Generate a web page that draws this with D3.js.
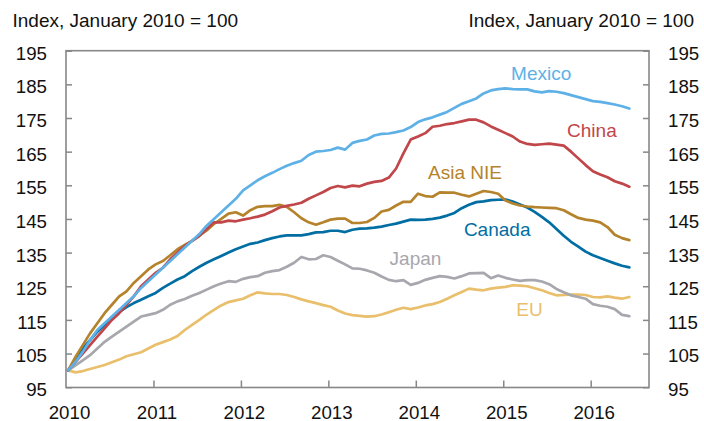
<!DOCTYPE html>
<html>
 <head>
  <meta charset="utf-8">
  <script src="https://d3js.org/d3.v7.min.js"></script>
  <style>
   body { margin: 0; background: #fff; }
   text { font-family: "Liberation Sans", Arial, Helvetica, sans-serif; }
  </style>
 </head>
 <body>
  <div id="chart"></div>
  <script type="text/javascript">
   // monthly index values, Jan 2010 .. Jun 2016 (Jan 2010 = 100)
   var startYear = 2010, nMonths = 78;
   var years = [2010, 2011, 2012, 2013, 2014, 2015, 2016];
   var yTicks = [95, 105, 115, 125, 135, 145, 155, 165, 175, 185, 195];

   var mexico = [100,102.5,105.5,109,112,114,116,118,120,122,124.5,126.5,
     128.5,130.5,132.5,134.5,136.5,138.5,140.5,143,145,147,149,151,
     153.5,155,156.5,157.7,158.7,159.8,160.8,161.6,162.3,164,165,165.2,
     165.5,166.2,165.6,167.6,168.2,168.6,169.8,170.3,170.4,170.8,171.3,172.3,
     173.8,174.6,175.2,176,176.8,178,179.2,180,180.8,182.3,183.2,183.6,
     183.8,183.6,183.5,183.5,182.9,182.6,183,182.8,182.4,181.8,181.2,180.6,
     180,179.8,179.4,179,178.5,177.8];
   var china = [100,102.5,105,107.5,110,112.5,115,117,119.5,122,125,127,
     129,130.5,133,135,137,138.5,140,142,144,144,144.5,144.3,
     144.8,145.2,145.7,146.3,147.3,148.4,148.9,149.3,149.8,151,152,153,
     154.2,154.8,154.4,154.9,154.7,155.5,156,156.3,157.3,160,164.5,168.6,
     169.5,170.5,172.4,172.7,173.2,173.5,174,174.5,174.5,173.7,172.5,171.5,
     170.5,169.5,168,167.3,167,167.2,167.4,167.1,166.8,165,163,161,
     159.2,158.2,157.4,156.2,155.5,154.6];
   var asiaNIE = [100,104,107.5,111,114,117,119.5,122,123.5,126,128,130,
     131.5,132.5,134.2,136,137.3,138.5,140,141.6,143.5,145,146.6,147,
     146,147.6,148.6,148.8,148.8,149.2,148.6,147,145.2,144,143.3,144,
     144.8,145.1,145.1,143.8,143.8,144.1,145.3,147.2,147.7,149,150.1,150.1,
     152.5,151.8,151.6,152.9,152.8,152.8,152.2,151.7,152.5,153.3,153,152.5,
     150.5,149.6,149,148.7,148.5,148.4,148.3,148.2,147.6,146.4,145.3,144.8,
     144.5,144,142.6,140.3,139.3,138.7];
   var canada = [100,103,106.5,109,111.5,113.5,115.5,117.3,118.8,120,121,122,
     123,124.5,125.8,127,128,129.5,130.8,132,133,134,135,136,
     136.8,137.6,138,138.7,139.3,139.8,140.1,140.1,140.1,140.5,141,141.1,
     141.5,141.5,141.1,141.8,142.1,142.2,142.4,142.7,143.2,143.6,144.2,144.8,
     144.7,144.8,145,145.4,146,146.8,148.2,149.2,150,150.2,150.6,150.7,
     150.8,150.2,149.3,148.4,147.1,145.6,144,142,140,138.2,136.8,135.3,
     134.2,133.4,132.6,131.8,131.1,130.6];
   var japan = [100,101.5,103,104.5,106.5,108.5,110,111.5,113,114.5,116,116.5,
     117,118,119.5,120.5,121.2,122.2,123,124,125,125.8,126.5,126.3,
     127.2,127.7,128,129,129.5,129.8,130.8,132,133.7,133,133.1,134.2,
     133.7,132.6,131.5,130.3,130.2,129.7,129,127.9,126.9,126.5,126.8,125.4,
     126,126.9,127.5,128,127.8,127.3,128,128.8,128.9,129,127.4,128.2,
     127.5,127,126.6,126.8,126.8,126.4,125.6,124.2,123.2,122.3,121.8,121.3,
     119.7,119.2,118.9,118.2,116.5,116.1];
   var eu = [100,99.4,99.8,100.4,101,101.6,102.4,103.2,104.2,104.8,105.4,106.5,
     107.6,108.4,109.2,110.2,112,113.5,115,116.6,118,119.3,120.3,120.8,
     121.3,122.3,123.2,122.9,122.7,122.7,122.4,121.8,121.1,120.5,120,119.4,
     118.9,117.8,116.9,116.4,116.2,116,116.1,116.6,117.3,118,118.6,118.2,
     118.7,119.3,119.7,120.3,121.3,122.3,123.3,124.3,124,123.8,124.3,124.6,
     124.8,125.3,125.2,125,124.4,123.8,123,122.3,122.4,122.5,122.5,122.4,
     121.8,121.7,122,121.6,121.3,121.8];

   var seriesNames = ["Mexico", "China", "Asia NIE", "Canada", "Japan", "EU"];
   var seriesValues = [mexico, china, asiaNIE, canada, japan, eu];
   var seriesColors = ["#5eb1e6", "#c1464a", "#b5832c", "#006ea3", "#a7a7ae", "#e9bf6c"];
   // label anchor (left edge, baseline): [date, value] in data space
   var labelPos = [[2015.09, 186.3], [2015.73, 169.4], [2014.14, 156.9], [2014.55, 139.9], [2013.70, 131.2], [2015.15, 116.2]];

   var width = 704, height = 421;
   var x = d3.scaleLinear().domain([2010, 2016 + 8 / 12]).range([66, 649]);
   var y = d3.scaleLinear().domain([95, 195]).range([387.2, 50.7]);

   var svg = d3.select("#chart").append("svg")
     .attr("width", width).attr("height", height);

   // subtitles
   svg.append("text").attr("x", 12.5).attr("y", 26.7)
     .style("font-size", "19px").attr("fill", "#111")
     .text("Index, January 2010 = 100");
   svg.append("text").attr("x", 694).attr("y", 26.7).attr("text-anchor", "end")
     .style("font-size", "19px").attr("fill", "#111")
     .text("Index, January 2010 = 100");

   var axisColor = "#878787";

   // left axis
   var gl = svg.append("g").attr("transform", "translate(66,0)")
     .call(d3.axisLeft(y).tickValues(yTicks).tickSize(-6).tickPadding(19));
   // right axis
   var gr = svg.append("g").attr("transform", "translate(649,0)")
     .call(d3.axisRight(y).tickValues(yTicks).tickSize(-6).tickPadding(19));
   // bottom axis
   var gb = svg.append("g").attr("transform", "translate(0,387.5)")
     .call(d3.axisBottom(x).tickValues(years).tickFormat(d3.format("d")).tickSize(-7));

   [gl, gr, gb].forEach(function (g) {
     g.select(".domain").remove();
     g.selectAll("line").attr("stroke", axisColor).attr("stroke-width", 1.5);
     g.selectAll("text").style("font-size", "18.7px").attr("fill", "#111")
       .style("font-family", "'Liberation Sans', Arial, Helvetica, sans-serif");
   });
   gl.selectAll("text").attr("dy", "0.45em");
   gr.selectAll("text").attr("dy", "0.45em");
   gb.selectAll("text").attr("x", 3).attr("y", 31).attr("dy", 0);
   gb.selectAll(".tick").filter(function (d) { return d === 2010; }).select("line").remove();

   // frame
   svg.append("rect")
     .attr("x", x(2010)).attr("y", y(195))
     .attr("width", x(2016 + 8 / 12) - x(2010)).attr("height", y(95) - y(195) + 0.3)
     .attr("fill", "none").attr("stroke", axisColor).attr("stroke-width", 1.6);

   // lines
   var line = d3.line()
     .x(function (d, i) { return x(startYear + (i + 0.3) / 12); })
     .y(function (d) { return y(d); });

   // draw in order so overlap matches the original
   var drawOrder = [5, 4, 3, 2, 1, 0];
   drawOrder.forEach(function (k) {
     svg.append("path")
       .datum(seriesValues[k].slice(0, nMonths))
       .attr("d", line)
       .attr("fill", "none")
       .attr("stroke", seriesColors[k])
       .attr("stroke-width", 2.7)
       .attr("stroke-linejoin", "round")
       .attr("stroke-linecap", "round");
   });

   // series labels
   seriesNames.forEach(function (name, k) {
     svg.append("text")
       .attr("x", x(labelPos[k][0]))
       .attr("y", y(labelPos[k][1]))
       .style("font-size", "19px")
       .attr("fill", seriesColors[k])
       .text(name);
   });
  </script>
 </body>
</html>
